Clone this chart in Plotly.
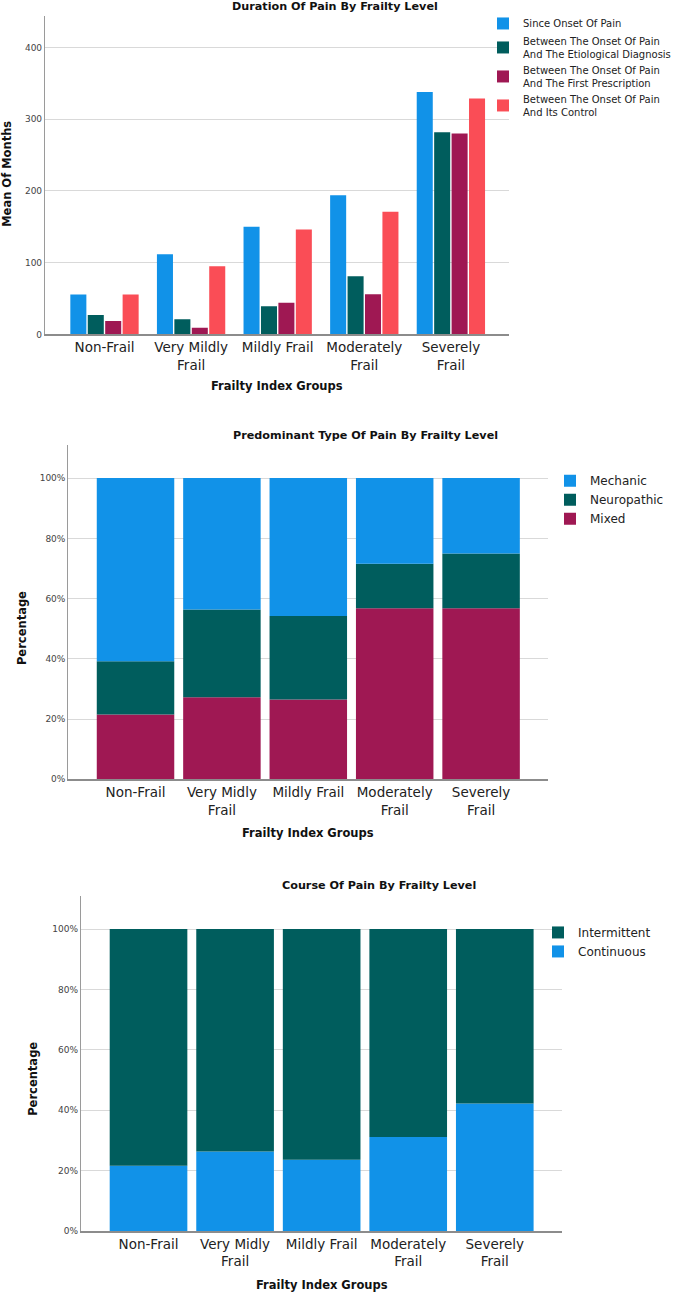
import plotly.graph_objects as go

W, H = 678, 1298

# ---------------- data ----------------
categories_duration = ["Non-Frail", "Very Mildly<br>Frail", "Mildly Frail", "Moderately<br>Frail", "Severely<br>Frail"]
since_onset = [55.6, 111.6, 150.0, 194.0, 338.0]
to_etiological_dx = [27.0, 21.3, 39.4, 81.0, 282.0]
to_first_prescription = [18.6, 9.3, 44.0, 56.0, 280.0]
to_control = [55.6, 95.0, 146.4, 171.0, 329.0]

categories_pct = ["Non-Frail", "Very Midly<br>Frail", "Mildly Frail", "Moderately<br>Frail", "Severely<br>Frail"]
type_mixed = [21.5, 27.2, 26.5, 56.8, 56.8]
type_neuropathic = [17.7, 29.2, 27.7, 14.8, 18.2]
type_mechanic = [60.8, 43.6, 45.8, 28.4, 25.0]

course_continuous = [21.6, 26.3, 23.6, 31.1, 42.2]
course_intermittent = [78.4, 73.7, 76.4, 68.9, 57.8]

pct_ticks = [0, 20, 40, 60, 80, 100]
pct_ticktext = ["0%", "20%", "40%", "60%", "80%", "100%"]

# ---------------- styles ----------------
BLUE, TEAL, MAGENTA, RED = "#1192e8", "#005d5d", "#9f1853", "#fa4d56"
FONT = "DejaVu Sans"
TXT = "#222222"


def px_x(p):
    return p / W


def px_y(p):
    return 1 - p / H


fig = go.Figure()

# ---- chart 1: grouped bars ----
for name, vals, col in [
    ("Since Onset Of Pain", since_onset, BLUE),
    ("Between The Onset Of Pain<br>And The Etiological Diagnosis", to_etiological_dx, TEAL),
    ("Between The Onset Of Pain<br>And The First Prescription", to_first_prescription, MAGENTA),
    ("Between The Onset Of Pain<br>And Its Control", to_control, RED),
]:
    fig.add_trace(go.Bar(x=categories_duration, y=vals, name=name, marker_color=col,
                         marker_line_width=0, xaxis="x", yaxis="y", legend="legend"))

# stacked bars (explicit bases, since barmode is shared with the grouped chart)
STACK_W = 0.897


def stacked(series, cats, xa, ya, lg):
    base = [0.0] * len(cats)
    for name, vals, col in series:
        fig.add_trace(go.Bar(x=cats, y=vals, base=list(base), name=name, marker_color=col,
                             marker_line_width=0, width=STACK_W, offset=-STACK_W / 2,
                             xaxis=xa, yaxis=ya, legend=lg))
        base = [b + v for b, v in zip(base, vals)]


stacked([("Mixed", type_mixed, MAGENTA),
         ("Neuropathic", type_neuropathic, TEAL),
         ("Mechanic", type_mechanic, BLUE)],
        categories_pct, "x2", "y2", "legend2")

stacked([("Continuous", course_continuous, BLUE),
         ("Intermittent", course_intermittent, TEAL)],
        categories_pct, "x3", "y3", "legend3")

xcommon = dict(type="category", showgrid=False, zeroline=False, showline=True,
               linecolor="#8c8c8c", linewidth=1.5, ticks="",
               tickfont=dict(family=FONT, size=13.5, color=TXT), fixedrange=True)
ycommon = dict(showgrid=True, gridcolor="#d9d9d9", gridwidth=1, zeroline=False,
               showline=True, linecolor="#9a9a9a", linewidth=1.2, ticks="",
               tickfont=dict(family=FONT, size=9, color="#444444"), fixedrange=True)

fig.update_layout(
    width=W, height=H,
    margin=dict(l=0, r=0, t=0, b=0),
    paper_bgcolor="white", plot_bgcolor="white",
    barmode="group",
    bargap=0.195, bargroupgap=0.08,
    xaxis=dict(xcommon, domain=[px_x(45), px_x(509)], anchor="y", range=[-0.687, 4.671]),
    yaxis=dict(ycommon, domain=[px_y(335.7), px_y(16)], anchor="x", range=[0, 444],
               tickvals=[0, 100, 200, 300, 400]),
    xaxis2=dict(xcommon, domain=[px_x(68.3), px_x(548.3)], anchor="y2", range=[-0.778, 4.778]),
    yaxis2=dict(ycommon, domain=[px_y(782.3), px_y(446.7)], anchor="x2", range=[0, 111],
                tickvals=pct_ticks, ticktext=pct_ticktext),
    xaxis3=dict(xcommon, domain=[px_x(81), px_x(562.3)], anchor="y3", range=[-0.78, 4.78]),
    yaxis3=dict(ycommon, domain=[px_y(1235.7), px_y(899.3)], anchor="x3", range=[0, 111],
                tickvals=pct_ticks, ticktext=pct_ticktext),
    legend=dict(x=px_x(483), y=px_y(9), xanchor="left", yanchor="top",
                font=dict(family=FONT, size=10, color=TXT), bgcolor="rgba(0,0,0,0)"),
    legend2=dict(x=px_x(550), y=px_y(468), xanchor="left", yanchor="top",
                 traceorder="reversed",
                 font=dict(family=FONT, size=12, color=TXT), bgcolor="rgba(0,0,0,0)"),
    legend3=dict(x=px_x(538), y=px_y(921.5), xanchor="left", yanchor="top",
                 traceorder="reversed",
                 font=dict(family=FONT, size=12, color=TXT), bgcolor="rgba(0,0,0,0)"),
)

title_font = dict(family=FONT, size=11.2, color="#111111")
axis_font = dict(family=FONT, size=11.5, color="#111111")
ann = []


def add_text(text, x, y, font, angle=0):
    ann.append(dict(text="<b>" + text + "</b>", x=px_x(x), y=px_y(y), xref="paper", yref="paper",
                    showarrow=False, xanchor="center", yanchor="middle", font=font, textangle=angle))


add_text("Duration Of Pain By Frailty Level", 335, 6.5, title_font)
add_text("Predominant Type Of Pain By Frailty Level", 366, 437, title_font)
add_text("Course Of Pain By Frailty Level", 379, 888.5, title_font)
add_text("Frailty Index Groups", 277, 387, axis_font)
add_text("Frailty Index Groups", 308, 836, axis_font)
add_text("Frailty Index Groups", 321.5, 1290, axis_font)
add_text("Mean Of Months", 7.5, 175, axis_font, -90)
add_text("Percentage", 21.5, 631, axis_font, -90)
add_text("Percentage", 33, 1083, axis_font, -90)
fig.update_layout(annotations=ann)

fig.write_html("out.html")
